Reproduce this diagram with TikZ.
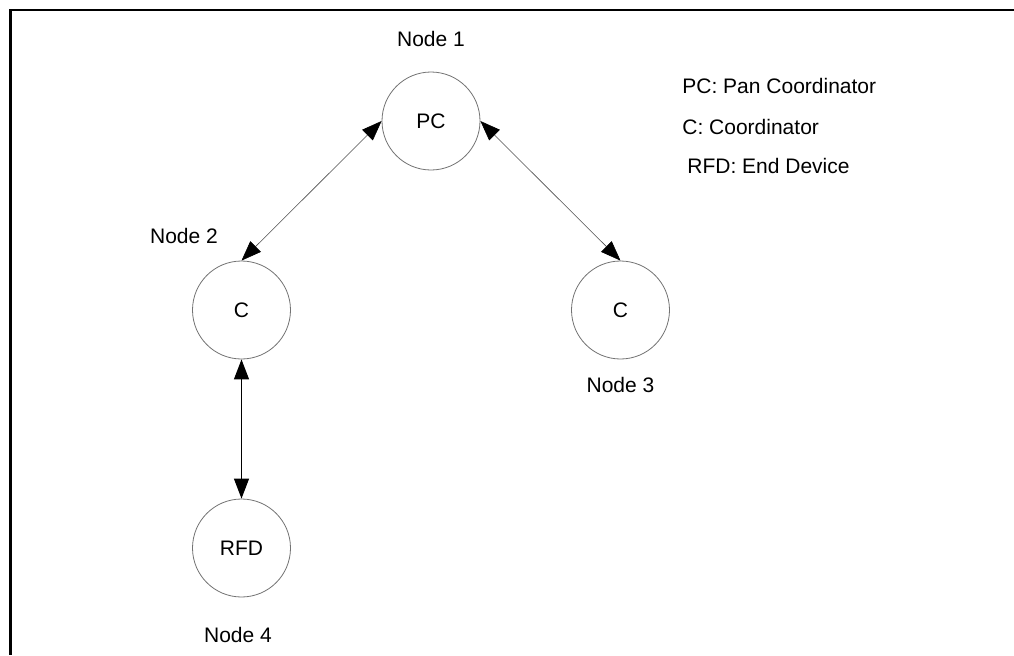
\documentclass[tikz,border=0pt]{standalone}
\usepackage{fontspec}
\setmainfont{Liberation Sans}
\usepackage{tikz}
\usetikzlibrary{positioning,arrows.meta}

\begin{document}
\begin{tikzpicture}[x=0.5pt,y=-0.5pt,auto,
    every node/.style={on grid,font=\fontsize{10.5}{12}\selectfont},
    dev/.style={circle,draw=black!55,fill=white,line width=0.4pt,minimum size=49pt,inner sep=0pt},
    key/.style={anchor=base west,inner sep=0pt},
    link/.style={<->,draw=black!70,line width=0.3pt},
    uplink/.style={<->,draw=black,line width=0.6pt},
    >={Triangle[length=10pt,width=7.5pt,color=black]}]
    \useasboundingbox (0,0) rectangle (1014,655);
    \draw[line width=1.2pt] (1014,10) -- (10.5,10) -- (10.5,655);
    \node[dev] (PC) at (431,121) {PC};
    \node[dev,below left=94.5pt and 94.75pt of PC] (C2) {C};
    \node[dev,below right=94.5pt and 94.75pt of PC] (C3) {C};
    \node[dev,below=119pt of C2] (RFD) {RFD};
    \node[above=41pt of PC] (n1) {Node 1};
    \node[above left=37pt and 28.75pt of C2] (n2) {Node 2};
    \node[below=37.5pt of C3] (n3) {Node 3};
    \node[below=43.5pt of RFD,xshift=-1.75pt] (n4) {Node 4};
    %legend
    \node[key] (kPC) at (682,93) {PC: Pan Coordinator};
    \node[key] (kC) at (682,134) {C: Coordinator};
    \node[key] (kRFD) at (687,173) {RFD: End Device};
    \draw[link] (PC.west) -- (C2.north);
    \draw[link] (PC.east) -- (C3.north);
    \draw[uplink] (C2.south) -- (RFD.north);
\end{tikzpicture}
\end{document}
